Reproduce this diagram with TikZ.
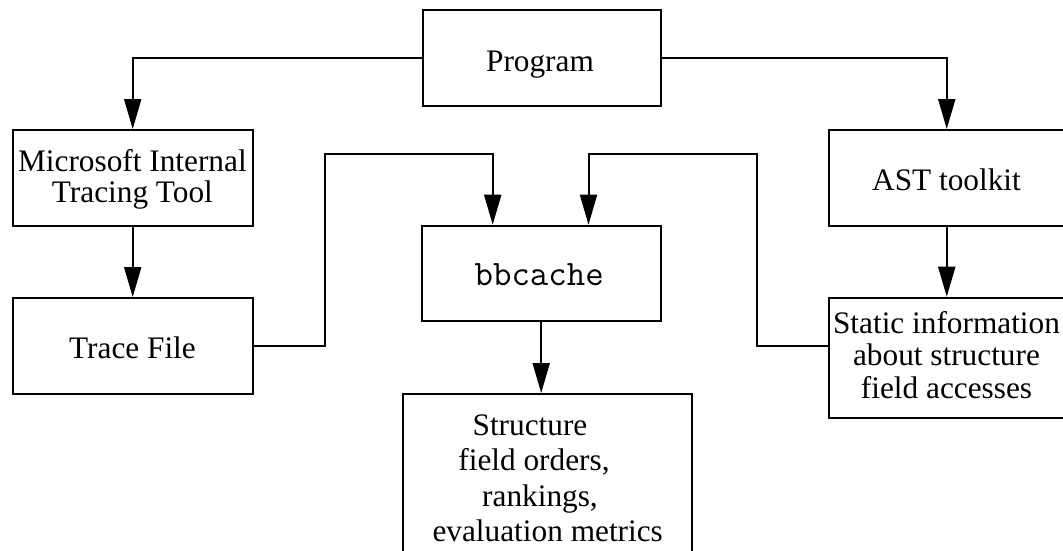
\documentclass[tikz,border=0pt]{standalone}
\usepackage{fontspec}
\setmainfont{Liberation Serif}
\usetikzlibrary{arrows.meta}
\begin{document}
\begin{tikzpicture}[x=1pt,y=-1pt,
  box/.style={draw=black, line width=2pt, inner sep=0pt},
  lbl/.style={inner sep=0pt, anchor=base, font=\fontsize{31.3}{31}\selectfont},
  arr/.style={draw=black, line width=2pt, -{Triangle[length=30pt,width=17pt]}},
  link/.style={draw=black, line width=2pt}
]
\useasboundingbox (0,0) rectangle (1063,550);

% boxes
\node[box, minimum width=238pt, minimum height=96pt]  (prog)   at (541.7,58)    {};
\node[box, minimum width=240pt, minimum height=96pt]  (mit)    at (132.7,178)   {};
\node[box, minimum width=240pt, minimum height=96pt]  (trace)  at (132.7,346)   {};
\node[box, minimum width=239pt, minimum height=95pt]  (bb)     at (541.2,273.2) {};
\node[box, minimum width=236.5pt, minimum height=96pt] (ast)   at (946.75,178)  {};
\node[box, minimum width=236.5pt, minimum height=120pt] (static) at (946.75,357.7) {};
\node[box, minimum width=288.4pt, minimum height=171pt] (st)   at (547.5,479.5) {};

% texts
\node[lbl] (tprog) at (540,71) {Program};
\node[lbl] (tmit) at (132.4,171.7) {\begin{tabular}[t]{@{}c@{}}Microsoft Internal\\Tracing Tool\end{tabular}};
\node[lbl] (ttrace) at (132.5,358.3) {Trace File};
\node[lbl, font=\fontsize{35.8}{31}\selectfont\ttfamily] (tbb) at (539.2,285.7) {bbcache};
\node[lbl] (tast) at (946.5,190) {AST toolkit};
\node[lbl, font=\fontsize{31.3}{32.5}\selectfont] (tstatic) at (946.5,333.3)
  {\begin{tabular}[t]{@{}c@{}}Static information\\about structure\\field accesses\end{tabular}};
\node[lbl, font=\fontsize{31.3}{35.5}\selectfont] (tst) at (547.7,435)
  {\begin{tabular}[t]{@{}c@{}}Structure\hspace*{35.4pt}\\field orders,\hspace*{27.4pt}\\rankings,\hspace*{15.4pt}\\evaluation metrics\end{tabular}};

% connectors
\coordinate (tl) at (325,154);
\coordinate (tr) at (757,154);
\draw[arr] (prog.west) -| (mit.north);
\draw[arr] (prog.east) -| (ast.north);
\draw[arr] (mit.south) -- (trace.north);
\draw[arr] (ast.south) -- (static.north);
\draw[arr] (trace.east) -| (tl) -| ([xshift=-48.5pt]bb.north);
\draw[arr] (static.west |- trace.east) -| (tr) -| ([xshift=47.3pt]bb.north);
\draw[arr] (bb.south) -- (bb.south |- st.north);
\end{tikzpicture}
\end{document}
